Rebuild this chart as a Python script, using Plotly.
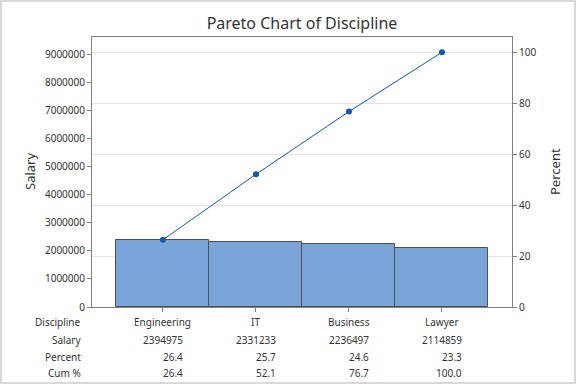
import plotly.graph_objects as go

categories = ["Engineering", "IT", "Business", "Lawyer"]
salary = [2394975, 2331233, 2236497, 2114859]
percent = [26.4, 25.7, 24.6, 23.3]
cum_pct = [26.4, 52.1, 76.7, 100.0]
left_ticks = [0, 1000000, 2000000, 3000000, 4000000, 5000000, 6000000, 7000000, 8000000, 9000000]
right_ticks = [0, 20, 40, 60, 80, 100]
row_labels = ["Discipline", "Salary", "Percent", "Cum %"]

total = sum(salary)
W, H = 576, 384
ml, mr, mt, mb = 92, 64, 37, 77
pw, ph = W - ml - mr, H - mt - mb
ymax = 9.62e6
xs = list(range(len(categories)))

font = "Noto Sans, Open Sans, sans-serif"
tc = "#333333"

fig = go.Figure()
fig.add_trace(go.Bar(
    x=xs, y=salary, width=1.0,
    marker=dict(color="#7BA4D9", line=dict(color="#4d4d4d", width=1)),
    showlegend=False, hoverinfo="skip"))
fig.add_trace(go.Scatter(
    x=xs, y=cum_pct, yaxis="y2", mode="lines+markers",
    line=dict(color="#1058AE", width=1),
    marker=dict(color="#1058AE", size=6),
    showlegend=False))

def py(p):
    return (H - mb - p) / ph

def px(p):
    return (p - ml) / pw

ann = []
row_y = [322, 340, 357, 373]
for lab, yy in zip(row_labels, row_y):
    ann.append(dict(text=lab, x=px(83), y=py(yy), xref="paper", yref="paper",
                    xanchor="right", yanchor="middle", showarrow=False,
                    font=dict(size=10, color=tc, family=font)))
for i, c in enumerate(categories):
    ann.append(dict(text=c, x=i, y=py(row_y[0]), xref="x", yref="paper",
                    xanchor="center", yanchor="middle", showarrow=False,
                    font=dict(size=10, color=tc, family=font)))
    for vals, yy, fmt in [(salary, row_y[1], "{:d}"), (percent, row_y[2], "{:.1f}"), (cum_pct, row_y[3], "{:.1f}")]:
        ann.append(dict(text=fmt.format(vals[i]), x=i + 22 / 93, y=py(yy), xref="x", yref="paper",
                        xanchor="right", yanchor="middle", showarrow=False,
                        font=dict(size=10, color=tc, family=font)))
ann.append(dict(text="Salary", x=px(30), y=py(172), xref="paper", yref="paper",
                textangle=-90, showarrow=False, xanchor="center", yanchor="middle",
                font=dict(size=13, color=tc, family=font)))
ann.append(dict(text="Percent", x=px(555), y=py(172), xref="paper", yref="paper",
                textangle=-90, showarrow=False, xanchor="center", yanchor="middle",
                font=dict(size=13, color=tc, family=font)))

fig.update_layout(
    width=W, height=H,
    margin=dict(l=ml, r=mr, t=mt, b=mb),
    paper_bgcolor="white", plot_bgcolor="white",
    bargap=0,
    title=dict(text="Pareto Chart of Discipline", x=0.5, xref="paper", xanchor="center",
               y=1 - 23 / H, yref="container", yanchor="middle",
               font=dict(size=16, color=tc, family=font)),
    xaxis=dict(range=[-0.763, 3.753], tickvals=xs, showticklabels=False,
               ticks="outside", ticklen=4, tickcolor="#7f7f7f",
               showline=True, linecolor="#7f7f7f", linewidth=1, mirror=True,
               showgrid=False, zeroline=False, fixedrange=True),
    yaxis=dict(range=[0, ymax], tickvals=left_ticks, ticktext=[str(v) for v in left_ticks],
               ticks="outside", ticklen=4, tickcolor="#7f7f7f",
               showline=True, linecolor="#7f7f7f", linewidth=1,
               showgrid=False, zeroline=False,
               tickfont=dict(size=10, color=tc, family=font)),
    yaxis2=dict(range=[0, ymax / total * 100], tickvals=right_ticks, overlaying="y", side="right",
                ticks="outside", ticklen=4, tickcolor="#7f7f7f",
                showline=True, linecolor="#7f7f7f", linewidth=1,
                showgrid=True, gridcolor="#e3e3e3", gridwidth=1, zeroline=False,
                tickfont=dict(size=10, color=tc, family=font)),
    annotations=ann,
    shapes=[dict(type="rect", xref="paper", yref="paper",
                 x0=px(1), x1=px(W - 1), y0=py(H - 1), y1=py(1),
                 line=dict(color="#d9d9d9", width=2), layer="above")],
)
fig.write_html("out.html", config={"displayModeBar": False},
               post_script="document.body.style.margin='0';document.body.style.overflow='hidden';")
